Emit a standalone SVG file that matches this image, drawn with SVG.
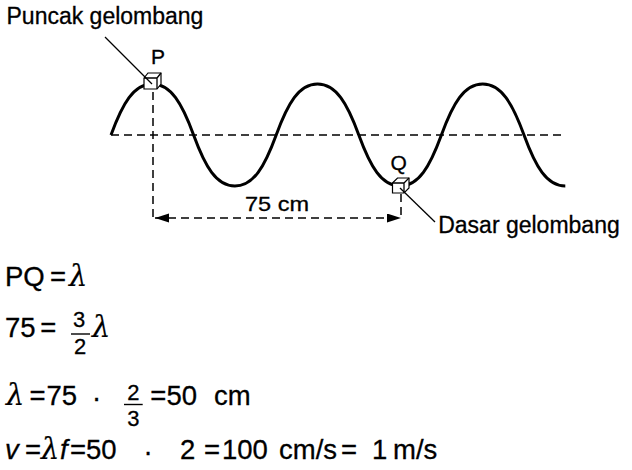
<svg xmlns="http://www.w3.org/2000/svg" width="632" height="470" viewBox="0 0 632 470">
<style>
.t{font-family:"Liberation Sans",Arial,sans-serif;fill:#000;stroke:#000;stroke-width:0.3}
.lab{font-size:23px}
.eq{font-size:27.5px}
.fr{font-size:22px;text-anchor:middle}
.lam{font-family:"DejaVu Serif","Liberation Serif",serif;font-style:italic;font-size:29px;fill:#000;stroke:#000;stroke-width:0.2}
.it{font-style:italic}
.dash{fill:none;stroke:#000;stroke-width:1.5;stroke-dasharray:8 5}
.lead{fill:none;stroke:#000;stroke-width:1.3}
.box{fill:#fff;stroke:#000;stroke-width:1.2;stroke-linejoin:miter}
.bar{stroke:#000;stroke-width:1.4}
</style>
<defs>
<marker id="ah" markerUnits="userSpaceOnUse" markerWidth="15" markerHeight="10" refX="14" refY="4.5" orient="auto-start-reverse">
<path d="M0,0 L14,4.5 L0,9 Z" fill="#000"/>
</marker>
</defs>
<rect width="632" height="470" fill="#fff"/>

<g id="connectors">
<line class="dash" x1="111" y1="135" x2="563" y2="135"/>
<line class="dash" x1="153" y1="92" x2="153" y2="218"/>
<line class="dash" x1="401" y1="194" x2="401" y2="218"/>
<line class="dash" x1="155" y1="218" x2="401" y2="218" marker-start="url(#ah)" marker-end="url(#ah)"/>
</g>

<g id="wave">
<path d="M111,135 C122.56,103.4 133.72,84 152.3,84 S182.04,103.4 193.6,135 S216.32,186 234.9,186 S264.64,166.6 276.2,135 S298.92,84 317.5,84 S347.24,103.4 358.8,135 S381.52,186 400.1,186 S429.84,166.6 441.4,135 S464.12,84 482.7,84 S512.44,103.4 524,135 S546.72,186 565.3,186" fill="none" stroke="#000" stroke-width="3"/>
</g>

<g id="node-P">
<path class="box" d="M144,78 L148,73 L161,73 L161,84 L157,89 L144,89 Z"/>
<path class="lead" d="M144,78 L157,78 L157,89 M157,78 L161,73"/>
<line class="lead" x1="105" y1="37" x2="152" y2="84"/>
<text class="t" x="151" y="64" font-size="21">P</text>
<text class="t lab" x="6.5" y="24">Puncak gelombang</text>
</g>

<g id="node-Q">
<path class="box" d="M392.5,183 L397.5,178 L409,178 L409,188 L404,193 L392.5,193 Z"/>
<path class="lead" d="M392.5,183 L404,183 L404,193 M404,183 L409,178"/>
<line class="lead" x1="400" y1="188" x2="435" y2="222"/>
<text class="t" x="390.5" y="170" font-size="21">Q</text>
<text class="t lab" x="438.2" y="233">Dasar gelombang</text>
</g>

<g id="label-75cm">
<text class="t" x="245" y="210.5" font-size="21" textLength="64" lengthAdjust="spacingAndGlyphs">75 cm</text>
</g>

<g id="equations">
<text class="t eq" x="5" y="286">PQ</text>
<text class="t eq" x="50" y="286">=</text>
<text class="lam" x="69" y="286">λ</text>

<text class="t eq" x="5" y="337">75</text>
<text class="t eq" x="40.3" y="337">=</text>
<text class="t fr" x="79" y="327">3</text>
<line class="bar" x1="71" y1="334" x2="90" y2="334"/>
<text class="t fr" x="80" y="354">2</text>
<text class="lam" x="92" y="337">λ</text>

<text class="lam" x="6" y="405">λ</text>
<text class="t eq" x="29.5" y="405">=</text>
<text class="t eq" x="46.5" y="405">75</text>
<text class="t eq" x="96.7" y="407" text-anchor="middle">·</text>
<text class="t fr" x="133.3" y="400">2</text>
<line class="bar" x1="124" y1="404.5" x2="142.7" y2="404.5"/>
<text class="t fr" x="133.3" y="426">3</text>
<text class="t eq" x="150.3" y="405">=</text>
<text class="t eq" x="166.5" y="405">50</text>
<text class="t eq" x="214" y="405">cm</text>

<text class="t eq it" x="5" y="458.5">v</text>
<text class="t eq" x="25" y="458.5">=</text>
<text class="lam" x="41" y="458.5">λ</text>
<text class="t eq it" x="60" y="458.5">f</text>
<text class="t eq" x="70" y="458.5">=</text>
<text class="t eq" x="86" y="458.5">50</text>
<text class="t eq" x="148" y="460.5" text-anchor="middle">·</text>
<text class="t eq" x="180" y="458.5">2</text>
<text class="t eq" x="204" y="458.5">=</text>
<text class="t eq" x="222" y="458.5">100</text>
<text class="t eq" x="279" y="458.5">cm/s</text>
<text class="t eq" x="341" y="458.5">=</text>
<text class="t eq" x="372" y="458.5">1</text>
<text class="t eq" x="393" y="458.5">m/s</text>
</g>
</svg>
